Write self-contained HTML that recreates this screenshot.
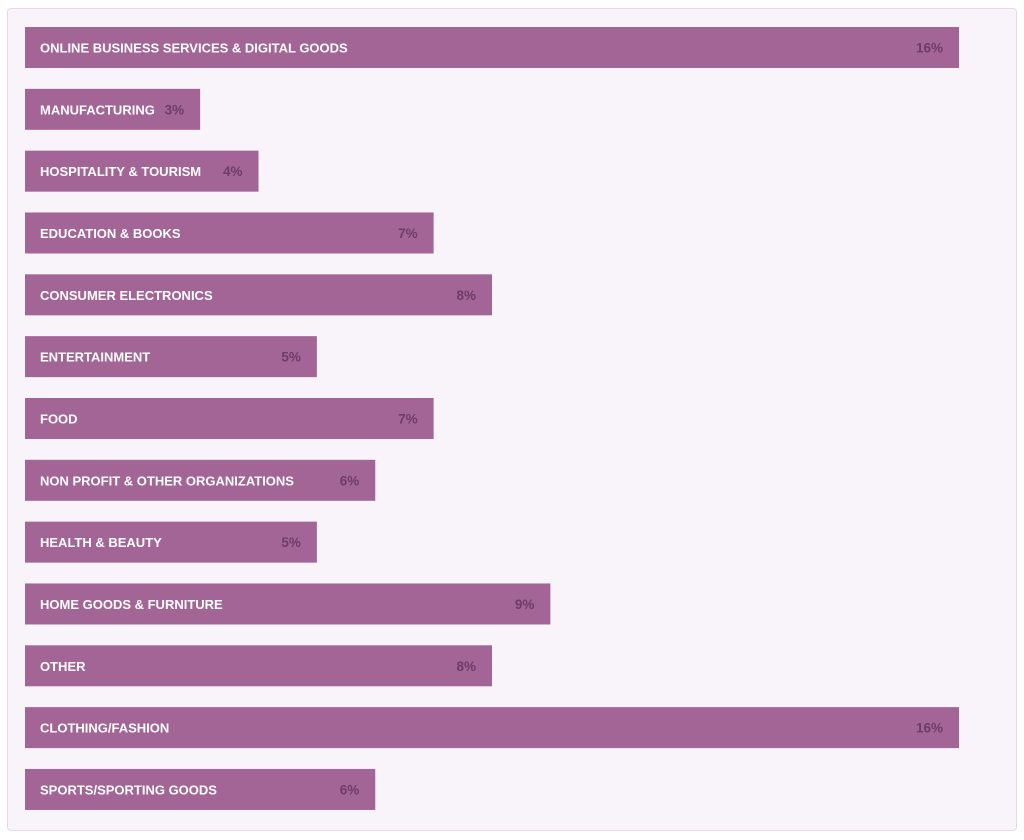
<!DOCTYPE html>
<html><head><meta charset="utf-8"><style>
body{margin:0;width:1024px;height:840px;background:#fff;font-family:"Liberation Sans",sans-serif;}
#box{position:absolute;left:7px;top:8px;width:1008px;height:821px;background:#f9f4f9;border:1px solid #ead6e8;border-radius:4px;}
svg{position:absolute;left:0;top:0;}
</style></head><body>
<div id="box"></div>
<svg width="1024" height="840">
<g id="bars"></g>
</svg>
<script>
const categories=["ONLINE BUSINESS SERVICES & DIGITAL GOODS","MANUFACTURING","HOSPITALITY & TOURISM","EDUCATION & BOOKS","CONSUMER ELECTRONICS","ENTERTAINMENT","FOOD","NON PROFIT & OTHER ORGANIZATIONS","HEALTH & BEAUTY","HOME GOODS & FURNITURE","OTHER","CLOTHING/FASHION","SPORTS/SPORTING GOODS"];
const values=[16,3,4,7,8,5,7,6,5,9,8,16,6];
const x=v=>25+v*(934/16);
const y=i=>27+i*61.83;
const g=document.getElementById('bars');
const ns='http://www.w3.org/2000/svg';
categories.forEach((c,i)=>{
  const r=document.createElementNS(ns,'rect');
  r.setAttribute('x',25);r.setAttribute('y',y(i));
  r.setAttribute('width',x(values[i])-25);r.setAttribute('height',41);
  r.setAttribute('fill','#a36596');
  
  
  g.appendChild(r);
  const t=document.createElementNS(ns,'text');
  t.setAttribute('x',40);t.setAttribute('y',y(i)+25.5);
  t.setAttribute('fill','#fff');t.setAttribute('font-size','13');t.setAttribute('font-weight','bold');
  t.textContent=c;
  
  
  g.appendChild(t);
  const v=document.createElementNS(ns,'text');
  v.setAttribute('x',x(values[i])-16);v.setAttribute('y',y(i)+25.5);
  v.setAttribute('text-anchor','end');
  v.setAttribute('fill','#6e3d66');v.setAttribute('font-size','13.5');v.setAttribute('font-weight','bold');
  v.textContent=values[i]+'%';
  
  
  g.appendChild(v);
});
</script>
</body></html>
